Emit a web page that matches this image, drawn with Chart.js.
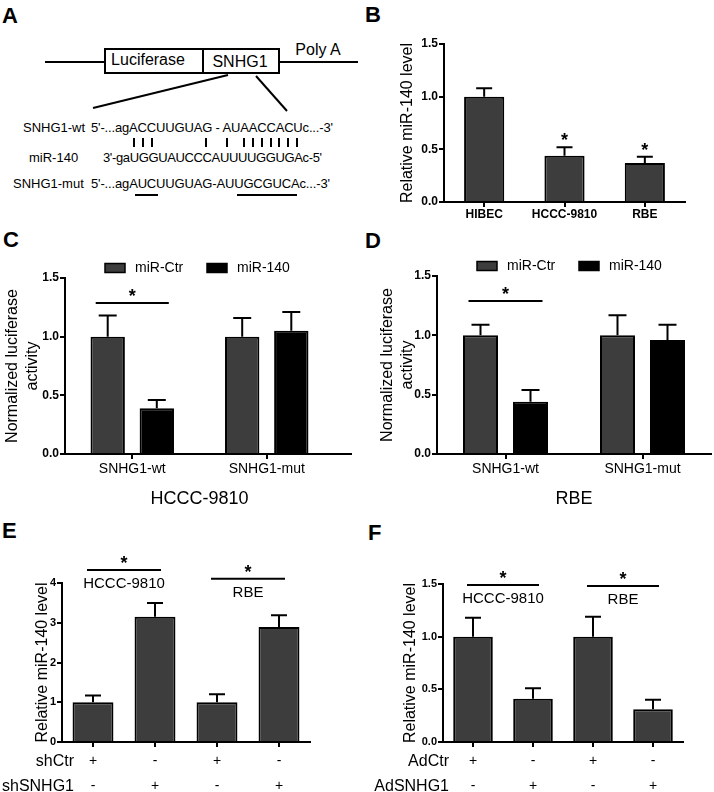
<!DOCTYPE html>
<html>
<head>
<meta charset="utf-8">
<script src="https://cdn.jsdelivr.net/npm/chart.js@4.4.1/dist/chart.umd.min.js"></script>
<style>
  body { margin: 0; background: #fff; width: 714px; height: 792px; position: relative; overflow: hidden; }
  canvas { position: absolute; }
  svg { position: absolute; left: 0; top: 0; font-family: Arial, 'Liberation Sans', Helvetica, sans-serif; }
</style>
</head>
<body>

<!-- panel A + panel letters -->
<svg width="714" height="792">
  <g fill="#000" font-weight="bold" font-size="22">
    <text x="2" y="23">A</text>
    <text x="365" y="22">B</text>
    <text x="3" y="247">C</text>
    <text x="365" y="248">D</text>
    <text x="2" y="538">E</text>
    <text x="368" y="540">F</text>
  </g>
  <g stroke="#000" stroke-width="2" fill="none">
    <line x1="45" y1="62" x2="105" y2="62"/>
    <rect x="105" y="49" width="174" height="24"/>
    <line x1="203" y1="49" x2="203" y2="73"/>
    <line x1="279" y1="62" x2="358" y2="62"/>
    <line x1="228" y1="75" x2="93" y2="108"/>
    <line x1="256" y1="76" x2="287" y2="111"/>
  </g>
  <g fill="#000" font-size="16" text-anchor="middle">
    <text x="148" y="65">Luciferase</text>
    <text x="240" y="67">SNHG1</text>
    <text x="318" y="55">Poly A</text>
  </g>
  <g fill="#000" font-size="13">
    <text x="23" y="132">SNHG1-wt</text>
    <text x="91" y="132" textLength="242">5'-...agACCUUGUAG - AUAACCACUc...-3'</text>
    <text x="29" y="162">miR-140</text>
    <text x="103" y="162" textLength="219">3'-gaUGGUAUCCCAUUUUGGUGAc-5'</text>
    <text x="13" y="188">SNHG1-mut</text>
    <text x="91" y="188" textLength="239">5'-...agAUCUUGUAG-AUUGCGUCAc...-3'</text>
  </g>
  <g stroke="#000" stroke-width="2">
    <line x1="134" y1="138" x2="134" y2="147"/>
    <line x1="143" y1="138" x2="143" y2="147"/>
    <line x1="152" y1="138" x2="152" y2="147"/>
    <line x1="206" y1="138" x2="206" y2="147"/>
    <line x1="227" y1="138" x2="227" y2="147"/>
    <line x1="244" y1="138" x2="244" y2="147"/>
    <line x1="253" y1="138" x2="253" y2="147"/>
    <line x1="262" y1="138" x2="262" y2="147"/>
    <line x1="271" y1="138" x2="271" y2="147"/>
    <line x1="279" y1="138" x2="279" y2="147"/>
    <line x1="288" y1="138" x2="288" y2="147"/>
    <line x1="297" y1="138" x2="297" y2="147"/>
    <line x1="135" y1="195" x2="158" y2="195"/>
    <line x1="237" y1="195" x2="297" y2="195"/>
  </g>
</svg>

<canvas id="chartB" width="300" height="193" style="left:395px;top:34px"></canvas>
<canvas id="chartC" width="355" height="257" style="left:0px;top:255px"></canvas>
<canvas id="chartD" width="339" height="259" style="left:375px;top:253px"></canvas>
<canvas id="chartE" width="320" height="247" style="left:0px;top:545px"></canvas>
<canvas id="chartF" width="354" height="247" style="left:360px;top:545px"></canvas>

<script>
// ==========================================
// DATA
// ==========================================
// B: miR-140 level in cell lines
const bLabels = ['HIBEC', 'HCCC-9810', 'RBE'];
const bValues = [1.0, 0.44, 0.37];
const bErrors = [0.08, 0.08, 0.06];
const bStars  = ['', '*', '*'];

// C: luciferase, HCCC-9810
const cLabels = ['SNHG1-wt', 'SNHG1-mut'];
const cCtr    = [1.0, 1.0];
const cCtrErr = [0.18, 0.16];
const c140    = [0.39, 1.05];
const c140Err = [0.07, 0.16];

// D: luciferase, RBE
const dLabels = ['SNHG1-wt', 'SNHG1-mut'];
const dCtr    = [1.0, 1.0];
const dCtrErr = [0.09, 0.17];
const d140    = [0.44, 0.96];
const d140Err = [0.10, 0.13];

// E: shSNHG1
const eShCtr    = ['+', '-', '+', '-'];
const eShSNHG1  = ['-', '+', '-', '+'];
const eValues   = [1.0, 3.15, 1.0, 2.89];
const eErrors   = [0.17, 0.35, 0.20, 0.30];

// F: AdSNHG1
const fAdCtr    = ['+', '-', '+', '-'];
const fAdSNHG1  = ['-', '+', '-', '+'];
const fValues   = [1.0, 0.41, 1.0, 0.31];
const fErrors   = [0.18, 0.10, 0.19, 0.09];

const GRAY = '#3d3d3d';
const BLACK = '#000000';
const FONT = "Arial, 'Liberation Sans', Helvetica, sans-serif";

Chart.defaults.font.family = FONT;
Chart.defaults.color = '#000';
Chart.defaults.animation = false;

// ==========================================
// PLUGINS
// ==========================================
const errorBars = {
  id: 'errorBars',
  afterDatasetsDraw(chart, args, opts) {
    const ctx = chart.ctx, ys = chart.scales.y;
    ctx.save();
    ctx.strokeStyle = '#000'; ctx.lineWidth = 2;
    chart.data.datasets.forEach((ds, i) => {
      chart.getDatasetMeta(i).data.forEach((bar, j) => {
        const top = ys.getPixelForValue(ds.data[j] + ds.errors[j]);
        ctx.beginPath();
        ctx.moveTo(bar.x, bar.y); ctx.lineTo(bar.x, top);
        ctx.moveTo(bar.x - opts.cap / 2, top); ctx.lineTo(bar.x + opts.cap / 2, top);
        ctx.stroke();
      });
    });
    ctx.restore();
  }
};

function drawStar(ctx, x, cy) {
  ctx.font = 'bold 18px ' + FONT;
  ctx.textAlign = 'center'; ctx.textBaseline = 'alphabetic';
  ctx.fillText('*', x, cy + 10);
}

const marks = {
  id: 'marks',
  afterDraw(chart, args, o) {
    const ctx = chart.ctx, ys = chart.scales.y, area = chart.chartArea;
    ctx.save();
    ctx.fillStyle = '#000'; ctx.strokeStyle = '#000'; ctx.lineWidth = 2;

    if (o.axisExt) {
      ctx.beginPath(); ctx.moveTo(area.right, area.bottom); ctx.lineTo(area.right + o.axisExt, area.bottom); ctx.stroke();
    }

    // stars straight above error bars
    (o.stars || []).forEach((s, j) => {
      if (!s) return;
      const ds = chart.data.datasets[0];
      const bar = chart.getDatasetMeta(0).data[j];
      drawStar(ctx, bar.x, ys.getPixelForValue(ds.data[j] + ds.errors[j]) - 11);
    });

    // significance brackets
    (o.brackets || []).forEach(b => {
      const x1 = chart.getDatasetMeta(b.from[0]).data[b.from[1]].x - o.ext;
      const x2 = chart.getDatasetMeta(b.to[0]).data[b.to[1]].x + o.ext;
      const yy = ys.getPixelForValue(b.y);
      ctx.beginPath(); ctx.moveTo(x1, yy); ctx.lineTo(x2, yy); ctx.stroke();
      drawStar(ctx, (x1 + x2) / 2, yy - 11);
      if (b.label) {
        ctx.font = '15px ' + FONT; ctx.textAlign = 'center'; ctx.textBaseline = 'middle';
        ctx.fillText(b.label, (x1 + x2) / 2, yy + 14);
      }
    });

    // legend boxes
    if (o.legend) {
      chart.data.datasets.forEach((ds, i) => {
        const bx = area.left + o.legend[i], by = area.top - 10;
        ctx.fillStyle = ds.backgroundColor;
        ctx.fillRect(bx, by - 4.5, 20, 9);
        ctx.lineWidth = 1.5; ctx.strokeRect(bx, by - 4.5, 20, 9);
        ctx.fillStyle = '#000';
        ctx.font = '14px ' + FONT; ctx.textAlign = 'left'; ctx.textBaseline = 'middle';
        ctx.fillText(ds.label, bx + 30, by);
      });
    }

    // row names for the +/- table
    if (o.rows) {
      ctx.font = '16px ' + FONT; ctx.textAlign = 'right'; ctx.textBaseline = 'middle';
      o.rows.forEach((r, i) => ctx.fillText(r, o.rowX, area.bottom + 20 + i * 25));
    }
    ctx.restore();
  }
};

// ==========================================
// SHARED AXIS CONFIG
// ==========================================
function yAxis(max, step, width, title, titlePad, decimals, tickSize) {
  return {
    min: 0, max: max,
    afterFit: s => { s.width = width; },
    border: { color: '#000', width: 2 },
    grid: { drawOnChartArea: false, color: '#000', lineWidth: 2, tickLength: 5 },
    ticks: { stepSize: step, padding: 1, font: { size: tickSize, weight: 'bold' },
             callback: v => v.toFixed(decimals) },
    title: { display: true, text: title, padding: { top: titlePad, bottom: 0 },
             font: { size: 16, lineHeight: 1.25 } }
  };
}

function xAxis(height, fontOpts, pad, title, titlePad) {
  return {
    afterFit: s => { s.height = height; },
    border: { color: '#000', width: 2 },
    grid: { offset: false, drawOnChartArea: false, color: '#000', lineWidth: 2, tickLength: 5 },
    ticks: { padding: pad, font: fontOpts, maxRotation: 0, autoSkip: false },
    title: title ? { display: true, text: title, padding: { top: 0, bottom: titlePad }, font: { size: 18 } }
                 : { display: false }
  };
}

function baseOptions(pad, scales, plugins) {
  return {
    responsive: false, maintainAspectRatio: false, animation: false,
    layout: { padding: pad },
    scales: scales,
    plugins: Object.assign({ legend: { display: false }, tooltip: { enabled: false } }, plugins)
  };
}

// ==========================================
// B
// ==========================================
new Chart(document.getElementById('chartB'), {
  type: 'bar',
  data: { labels: bLabels, datasets: [
    { data: bValues, errors: bErrors, backgroundColor: GRAY, borderColor: BLACK, borderWidth: 2,
      categoryPercentage: 1, barPercentage: 0.5 }
  ]},
  options: baseOptions({ top: 10, right: 10 }, {
    x: xAxis(25, { size: 12, weight: 'bold' }, 0),
    y: yAxis(1.5, 0.5, 49, 'Relative miR-140 level', 3, 1, 12)
  }, { errorBars: { cap: 16 }, marks: { stars: bStars } }),
  plugins: [errorBars, marks]
});

// ==========================================
// C & D
// ==========================================
function lucChart(id, labels, ctr, ctrErr, mir, mirErr, cellLine, pad, yWidth, sigY) {
  new Chart(document.getElementById(id), {
    type: 'bar',
    data: { labels: labels, datasets: [
      { label: 'miR-Ctr', data: ctr, errors: ctrErr, backgroundColor: GRAY, borderColor: BLACK, borderWidth: 2,
        categoryPercentage: 0.73, barPercentage: 0.7 },
      { label: 'miR-140', data: mir, errors: mirErr, backgroundColor: BLACK, borderColor: BLACK, borderWidth: 2,
        categoryPercentage: 0.73, barPercentage: 0.7 }
    ]},
    options: baseOptions(pad, {
      x: xAxis(58, { size: 14 }, 2, cellLine, 2),
      y: yAxis(1.5, 0.5, yWidth, ['Normalized luciferase', 'activity'], 3, 1, 12)
    }, {
      errorBars: { cap: 18 },
      marks: { ext: 12, legend: [40, 142], axisExt: pad.axisExt,
               brackets: [{ from: [0, 0], to: [1, 0], y: sigY }] }
    }),
    plugins: [errorBars, marks]
  });
}
lucChart('chartC', cLabels, cCtr, cCtrErr, c140, c140Err, 'HCCC-9810', { top: 23, right: 21, axisExt: 18 }, 65, 1.287);
lucChart('chartD', dLabels, dCtr, dCtrErr, d140, d140Err, 'RBE', { top: 23, right: 3 }, 62, 1.289);

// ==========================================
// E & F
// ==========================================
function tableChart(id, rowA, rowB, values, errors, rowNames, rowX, yMax, yStep, dec, yWidth, titlePad, pad, sig) {
  const labels = rowA.map((a, i) => [a, rowB[i]]);
  new Chart(document.getElementById(id), {
    type: 'bar',
    data: { labels: labels, datasets: [
      { data: values, errors: errors, backgroundColor: GRAY, borderColor: BLACK, borderWidth: 2,
        categoryPercentage: 1, barPercentage: 0.66 }
    ]},
    options: baseOptions(pad, {
      x: xAxis(50, { size: 14, lineHeight: 25 / 14 }, 2),
      y: yAxis(yMax, yStep, yWidth, 'Relative miR-140 level', titlePad, dec, 11)
    }, {
      errorBars: { cap: 16 },
      marks: { ext: 6, rows: rowNames, rowX: rowX,
               brackets: [
                 { from: [0, 0], to: [0, 1], y: sig[0], label: 'HCCC-9810' },
                 { from: [0, 2], to: [0, 3], y: sig[1], label: 'RBE' }
               ] }
    }),
    plugins: [errorBars, marks]
  });
}
tableChart('chartE', eShCtr, eShSNHG1, eValues, eErrors, ['shCtr', 'shSNHG1'], 74,
           4, 1, 0, 62, 33, { top: 38, right: 10 }, [4.33, 4.11]);
tableChart('chartF', fAdCtr, fAdSNHG1, fValues, fErrors, ['AdCtr', 'AdSNHG1'], 89,
           1.5, 0.5, 1, 83, 41, { top: 39, right: 31 }, [1.49, 1.48]);
</script>
</body>
</html>
